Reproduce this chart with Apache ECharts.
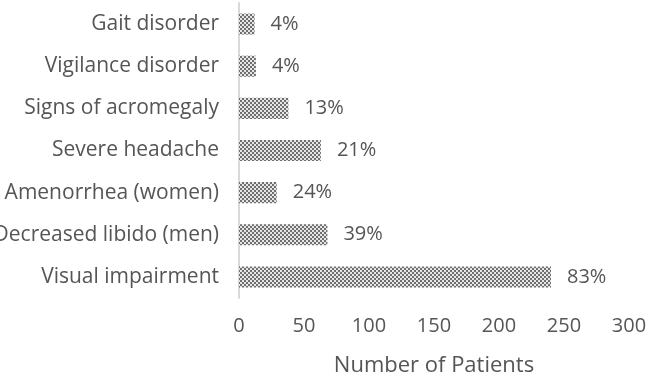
<!DOCTYPE html>
<html>
<head>
<meta charset="utf-8">
<script src="https://cdn.jsdelivr.net/npm/echarts@6/dist/echarts.min.js"></script>
<style>
  html, body { margin: 0; padding: 0; background: #fff; }
  #chart { width: 646px; height: 374px; }
</style>
</head>
<body>
<div id="chart"></div>
<script>
const categories = ['Visual impairment', 'Decreased libido (men)', 'Amenorrhea (women)', 'Severe headache', 'Signs of acromegaly', 'Vigilance disorder', 'Gait disorder']
const patients = [240, 68, 29, 63, 38, 13, 12]
const percents = ['83%', '39%', '24%', '21%', '13%', '4%', '4%']

// checkered fill like the original
const makePattern = () => {
  const c = document.createElement('canvas')
  c.width = 4
  c.height = 4
  const ctx = c.getContext('2d')
  ctx.fillStyle = '#e6e6e6'
  ctx.fillRect(0, 0, 4, 4)
  ctx.fillStyle = '#6f6f6f'
  ctx.fillRect(0, 0, 2, 2)
  ctx.fillRect(2, 2, 2, 2)
  return c
}

const chart = echarts.init(document.getElementById('chart'))
const font = '"Open Sans", sans-serif'

chart.setOption({
  animation: false,
  grid: { left: 239, right: 17, top: 3, bottom: 76, outerBoundsMode: 'none', containLabel: false },
  xAxis: {
    type: 'value',
    min: 0,
    max: 300,
    interval: 50,
    name: 'Number of Patients',
    nameLocation: 'middle',
    nameGap: 57,
    nameTextStyle: { color: '#555', fontSize: 22, fontFamily: font },
    axisLine: { show: false },
    axisTick: { show: false },
    splitLine: { show: false },
    axisLabel: { color: '#555', fontSize: 20, fontFamily: font, margin: 18 }
  },
  yAxis: {
    type: 'category',
    data: categories,
    axisLine: { show: true, lineStyle: { color: '#d9d9d9', width: 2 } },
    axisTick: { show: false },
    axisLabel: { color: '#555', fontSize: 21, fontFamily: font, margin: 20 }
  },
  series: [{
    type: 'bar',
    data: patients,
    barWidth: '50%',
    itemStyle: { color: { image: makePattern(), repeat: 'repeat' } },
    label: {
      show: true,
      position: 'right',
      distance: 16,
      color: '#555',
      fontSize: 20,
      fontFamily: font,
      formatter: (p) => percents[p.dataIndex]
    }
  }]
})
</script>
</body>
</html>
